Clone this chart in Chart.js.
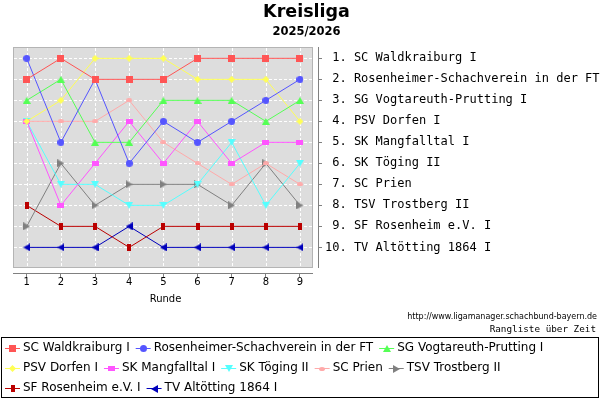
<!DOCTYPE html>
<html>
<head>
<meta charset="utf-8">
<script src="https://cdn.jsdelivr.net/npm/chart.js@4/dist/chart.umd.min.js"></script>
<style>
  body { margin: 0; background: #fff; }
  #wrap { width: 600px; height: 400px; }
</style>
</head>
<body>
<div id="wrap"><canvas id="rankChart" width="600" height="400"></canvas></div>
<script>
// Runden und Platzierungen
const rounds = [1, 2, 3, 4, 5, 6, 7, 8, 9];
const ranks = [1, 2, 3, 4, 5, 6, 7, 8, 9, 10];

const teams = [
    'SC Waldkraiburg I',
    'Rosenheimer-Schachverein in der FT',
    'SG Vogtareuth-Prutting I',
    'PSV Dorfen I',
    'SK Mangfalltal I',
    'SK Töging II',
    'SC Prien',
    'TSV Trostberg II',
    'SF Rosenheim e.V. I',
    'TV Altötting 1864 I'
];

const rankLabels = [
    ' 1. SC Waldkraiburg I',
    ' 2. Rosenheimer-Schachverein in der FT',
    ' 3. SG Vogtareuth-Prutting I',
    ' 4. PSV Dorfen I',
    ' 5. SK Mangfalltal I',
    ' 6. SK Töging II',
    ' 7. SC Prien',
    ' 8. TSV Trostberg II',
    ' 9. SF Rosenheim e.V. I',
    '10. TV Altötting 1864 I'
];

const waldkraiburg = [2, 1, 2, 2, 2, 1, 1, 1, 1];
const rosenheimer  = [1, 5, 2, 6, 4, 5, 4, 3, 2];
const vogtareuth   = [3, 2, 5, 5, 3, 3, 3, 4, 3];
const dorfen       = [4, 3, 1, 1, 1, 2, 2, 2, 4];
const mangfalltal  = [4, 8, 6, 4, 6, 4, 6, 5, 5];
const toeging      = [4, 7, 7, 8, 8, 7, 5, 8, 6];
const prien        = [4, 4, 4, 3, 5, 6, 7, 6, 7];
const trostberg    = [9, 6, 8, 7, 7, 7, 8, 6, 8];
const sfRosenheim  = [8, 9, 9, 10, 9, 9, 9, 9, 9];
const altoetting   = [10, 10, 10, 9, 10, 10, 10, 10, 10];

const series = [waldkraiburg, rosenheimer, vogtareuth, dorfen, mangfalltal,
                toeging, prien, trostberg, sfRosenheim, altoetting];

// Farben und Markierungen
const styles = [
    { color: '#ff5555', shape: 'rect',    w: 7, h: 7 },
    { color: '#5555ff', shape: 'ellipse', w: 7, h: 7 },
    { color: '#55ff55', shape: 'up',      w: 8, h: 7 },
    { color: '#ffff55', shape: 'diamond', w: 7, h: 7 },
    { color: '#ff55ff', shape: 'rect',    w: 7, h: 5 },
    { color: '#55ffff', shape: 'down',    w: 8, h: 7 },
    { color: '#ffaaaa', shape: 'ellipse', w: 6, h: 4 },
    { color: '#808080', shape: 'right',   w: 7, h: 8 },
    { color: '#bb0000', shape: 'rect',    w: 4, h: 7 },
    { color: '#0000bb', shape: 'left',    w: 7, h: 8 }
];

function makeMarker(s) {
    const c = document.createElement('canvas');
    c.width = s.w;
    c.height = s.h;
    const g = c.getContext('2d');
    const w = s.w, h = s.h;
    g.fillStyle = s.color;
    g.beginPath();
    if (s.shape === 'rect') g.rect(0, 0, w, h);
    if (s.shape === 'ellipse') g.ellipse(w / 2, h / 2, w / 2, h / 2, 0, 0, Math.PI * 2);
    if (s.shape === 'up') { g.moveTo(w / 2, 0); g.lineTo(w, h); g.lineTo(0, h); }
    if (s.shape === 'down') { g.moveTo(0, 0); g.lineTo(w, 0); g.lineTo(w / 2, h); }
    if (s.shape === 'right') { g.moveTo(0, 0); g.lineTo(w, h / 2); g.lineTo(0, h); }
    if (s.shape === 'left') { g.moveTo(w, 0); g.lineTo(0, h / 2); g.lineTo(w, h); }
    if (s.shape === 'diamond') { g.moveTo(w / 2, 0); g.lineTo(w, h / 2); g.lineTo(w / 2, h); g.lineTo(0, h / 2); }
    g.closePath();
    g.fill();
    return c;
}

const markers = styles.map(makeMarker);

const datasets = teams.map((name, i) => ({
    label: name,
    data: rounds.map((r, j) => ({ x: r, y: series[i][j] })),
    borderColor: styles[i].color,
    backgroundColor: styles[i].color,
    borderWidth: 1,
    tension: 0,
    fill: false,
    pointStyle: markers[i],
    pointRadius: 4
}));

// Hintergrund, Gitter und Achsenlinien
const plotFrame = {
    id: 'plotFrame',
    beforeDatasetsDraw(chart) {
        const { ctx, chartArea: a, scales: { x, y } } = chart;
        const l = a.left, t = a.top, r = a.right - 5, b = a.bottom - 5;
        ctx.save();
        ctx.fillStyle = '#dddddd';
        ctx.fillRect(l, t, r - l, b - t);
        ctx.strokeStyle = '#b4b4b4';
        ctx.lineWidth = 1;
        ctx.strokeRect(l + 0.5, t + 0.5, r - l - 1, b - t - 1);

        ctx.strokeStyle = '#ffffff';
        ctx.setLineDash([3, 2]);
        ctx.beginPath();
        rounds.forEach(v => {
            const px = Math.round(x.getPixelForValue(v)) + 0.5;
            ctx.moveTo(px, t + 1);
            ctx.lineTo(px, b - 1);
        });
        ranks.forEach(v => {
            const py = Math.round(y.getPixelForValue(v)) + 0.5;
            ctx.moveTo(l + 1, py);
            ctx.lineTo(r - 1, py);
        });
        ctx.stroke();
        ctx.setLineDash([]);

        ctx.strokeStyle = '#808080';
        ctx.beginPath();
        ctx.moveTo(l, a.bottom + 0.5);
        ctx.lineTo(r, a.bottom + 0.5);
        ctx.moveTo(a.right + 0.5, t);
        ctx.lineTo(a.right + 0.5, b);
        ctx.stroke();
        ctx.restore();
    }
};

// Legende und Zusatztexte unten
const legendBox = {
    id: 'legendBox',
    afterDraw(chart) {
        const ctx = chart.ctx;
        ctx.save();
        ctx.fillStyle = '#000';
        ctx.textAlign = 'right';
        ctx.textBaseline = 'middle';
        ctx.font = '8px "DejaVu Sans"';
        ctx.fillText('http://www.ligamanager.schachbund-bayern.de', 597, 317);
        ctx.font = '9.3px "DejaVu Sans Mono"';
        ctx.fillText('Rangliste über Zeit', 596, 330);

        ctx.strokeStyle = '#000';
        ctx.lineWidth = 1;
        ctx.strokeRect(1.5, 337.5, 597, 60);

        const rowBreaks = [3, 8];
        const rowY = [348, 368, 388];
        ctx.font = '12px "DejaVu Sans"';
        ctx.textAlign = 'left';
        let row = 0, px = 5;
        teams.forEach((name, i) => {
            if (rowBreaks.includes(i)) { row++; px = 5; }
            const py = rowY[row];
            ctx.strokeStyle = styles[i].color;
            ctx.beginPath();
            ctx.moveTo(px, py + 0.5);
            ctx.lineTo(px + 15, py + 0.5);
            ctx.stroke();
            const m = markers[i];
            ctx.drawImage(m, Math.round(px + 7.5 - m.width / 2), Math.round(py + 0.5 - m.height / 2));
            ctx.fillStyle = '#000';
            ctx.fillText(name, px + 18, py);
            px += 18 + ctx.measureText(name).width + 6;
        });
        ctx.restore();
    }
};

new Chart(document.getElementById('rankChart'), {
    type: 'line',
    data: { datasets },
    options: {
        responsive: false,
        animation: false,
        events: [],
        layout: { padding: { left: 13, right: 0, top: 0, bottom: 95 } },
        font: { family: '"DejaVu Sans"' },
        plugins: {
            legend: { display: false },
            tooltip: { enabled: false },
            title: {
                display: true,
                text: 'Kreisliga',
                color: '#000',
                font: { family: '"DejaVu Sans"', size: 17.5, weight: 'bold' },
                padding: { top: 2, bottom: 0 }
            },
            subtitle: {
                display: true,
                text: '2025/2026',
                color: '#000',
                font: { family: '"DejaVu Sans"', size: 11.5, weight: 'bold' },
                padding: { top: 2, bottom: 8.2 }
            }
        },
        scales: {
            x: {
                type: 'linear',
                min: 0.599,
                max: 9.527,
                afterBuildTicks: s => { s.ticks = rounds.map(v => ({ value: v })); },
                ticks: {
                    autoSkip: false,
                    padding: 0,
                    color: '#000',
                    font: { family: '"DejaVu Sans"', size: 10, lineHeight: 1 },
                    callback: v => String(v)
                },
                grid: { display: true, drawOnChartArea: false, drawTicks: true, tickLength: 4, color: '#808080' },
                border: { display: false },
                title: {
                    display: true,
                    text: 'Runde',
                    color: '#000',
                    font: { family: '"DejaVu Sans"', size: 10 },
                    padding: { top: 6, bottom: 0 }
                }
            },
            y: {
                type: 'linear',
                position: 'right',
                reverse: true,
                min: 0.46,
                max: 11.22,
                afterBuildTicks: s => { s.ticks = ranks.map(v => ({ value: v })); },
                afterFit: s => { s.width = 282; },
                ticks: {
                    autoSkip: false,
                    padding: 3,
                    color: '#000',
                    font: { family: '"DejaVu Sans Mono"', size: 12 },
                    callback: v => rankLabels[v - 1]
                },
                grid: { display: true, drawOnChartArea: false, drawTicks: true, tickLength: 4, color: '#808080' },
                border: { display: false }
            }
        }
    },
    plugins: [plotFrame, legendBox]
});
</script>
</body>
</html>
